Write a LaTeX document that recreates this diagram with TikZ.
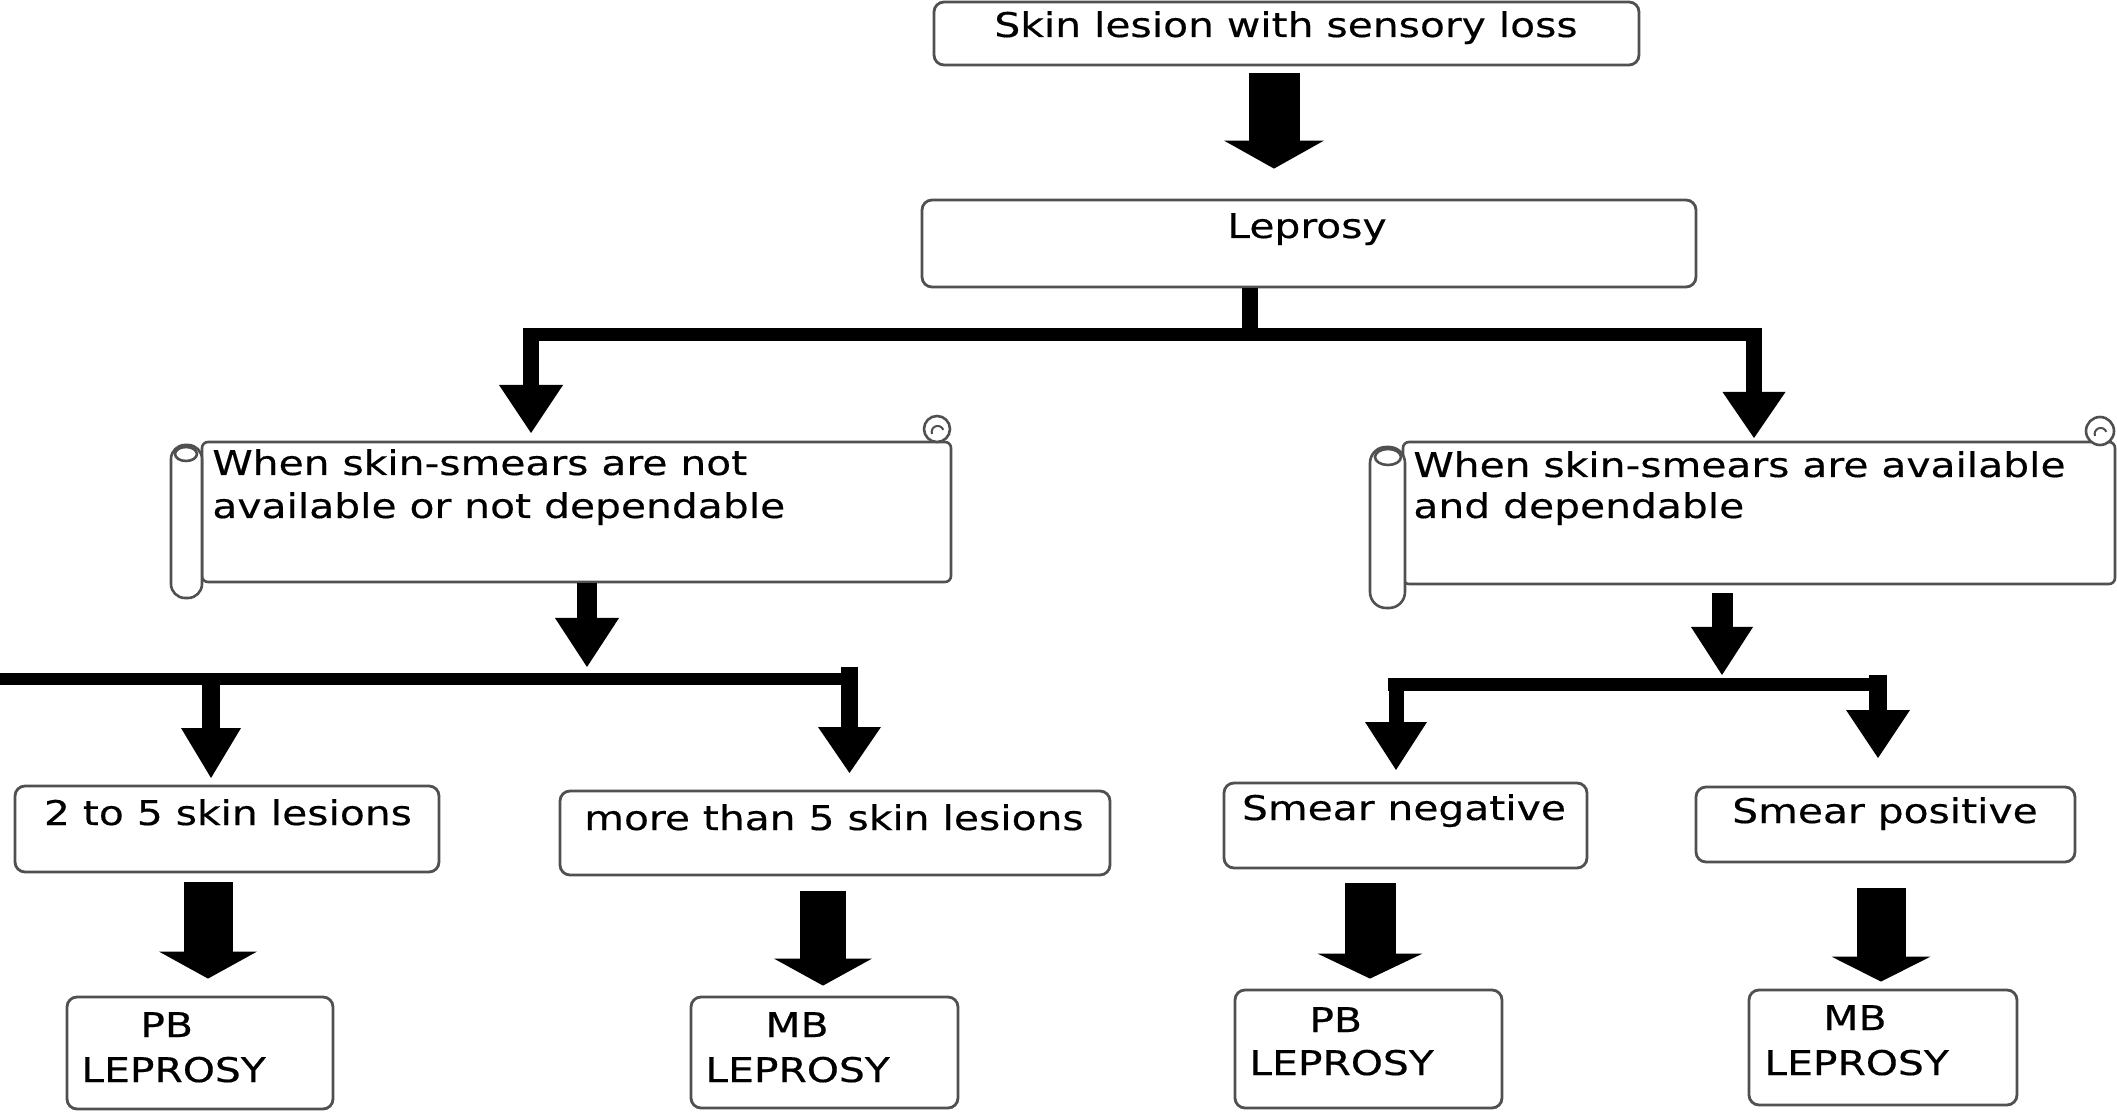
\documentclass[tikz,border=0pt]{standalone}
\usepackage{fontspec}
\setmainfont[FakeStretch=1.2,FakeBold=0.4]{DejaVu Sans}
\usetikzlibrary{arrows.meta,fit}
\definecolor{edge}{HTML}{505050}
\begin{document}
\begin{tikzpicture}[x=0.5pt,y=-0.5pt,
  box/.style={draw=edge, line width=1.4pt, rounded corners=5pt, fill=white, inner sep=0pt},
  scrollbody/.style={draw=edge, line width=1.3pt, rounded corners=3pt, fill=white, inner sep=0pt},
  scrollline/.style={draw=edge, line width=1.3pt},
  txt/.style={inner sep=0pt, font=\fontsize{17pt}{20pt}\selectfont, text=black},
  fatarrow/.style n args={3}{draw=black, line width=#1, -{Triangle[width=#2,length=#3,line width=0pt]}},
  hbar/.style={draw=black, line width=#1},
]
\fill[white] (0,0) rectangle (2117,1112);
\useasboundingbox (0,0) rectangle (2117,1112);

% ---------- boxes ----------
\node[box, fit={(934,2) (1639,65)}] (top) {};
\node[box, fit={(922,200) (1696,287)}] (lep) {};
\node[box, fit={(15,786) (439,872)}] (two) {};
\node[box, fit={(560,791) (1110,875)}] (more) {};
\node[box, fit={(1224,783) (1587,868)}] (neg) {};
\node[box, fit={(1696,787) (2075,862)}] (pos) {};
\node[box, fit={(67,997) (333,1109)}] (pbl) {};
\node[box, fit={(691,997) (958,1108)}] (mbl) {};
\node[box, fit={(1235,990) (1502,1108)}] (pbr) {};
\node[box, fit={(1749,990) (2017,1105)}] (mbr) {};

% ---------- scrolls ----------
\node[scrollbody, fit={(202,442) (951,582)}] (ls) {};
\draw[scrollline, fill=white, rounded corners=7pt] (171,445) rectangle (202,598);
\draw[scrollline, fill=white] (186,454) ellipse [x radius=5.5pt, y radius=3.5pt];
\draw[scrollline, fill=white] (937,429) circle [radius=6.5pt];
\draw[scrollline, line width=1pt] (932,434) arc [start angle=200, end angle=20, radius=3pt];

\node[scrollbody, fit={(1403,442) (2115,584)}] (rs) {};
\draw[scrollline, fill=white, rounded corners=8pt] (1370,447) rectangle (1405,608);
\draw[scrollline, fill=white] (1388,457) ellipse [x radius=6.5pt, y radius=4pt];
\draw[scrollline, fill=white] (2100,431) circle [radius=7pt];
\draw[scrollline, line width=1pt] (2095,436) arc [start angle=200, end angle=20, radius=3pt];

% ---------- texts ----------
\node[txt, anchor=base] (ttop) at (1286,37) {Skin lesion with sensory loss};
\node[txt, anchor=base] (tlep) at (1307,238) {Leprosy};
\node[txt, anchor=base west] (tls1) at (212,475) {When skin-smears are not};
\node[txt, anchor=base west] (tls2) at (212,518) {available or not dependable};
\node[txt, anchor=base west] (trs1) at (1413,477) {When skin-smears are available};
\node[txt, anchor=base west] (trs2) at (1413,518) {and dependable};
\node[txt, anchor=base] (ttwo) at (228,825) {2 to 5 skin lesions};
\node[txt, anchor=base] (tmore) at (834,830) {more than 5 skin lesions};
\node[txt, anchor=base] (tneg) at (1404,820) {Smear negative};
\node[txt, anchor=base] (tpos) at (1885,823) {Smear positive};
\node[txt, anchor=base west] (tpbl1) at (140,1037) {PB};
\node[txt, anchor=base west] (tpbl2) at (81,1082) {LEPROSY};
\node[txt, anchor=base west] (tmbl1) at (765,1037) {MB};
\node[txt, anchor=base west] (tmbl2) at (705,1082) {LEPROSY};
\node[txt, anchor=base west] (tpbr1) at (1309,1032) {PB};
\node[txt, anchor=base west] (tpbr2) at (1249,1075) {LEPROSY};
\node[txt, anchor=base west] (tmbr1) at (1823,1030) {MB};
\node[txt, anchor=base west] (tmbr2) at (1764,1075) {LEPROSY};

% ---------- block arrows ----------
\coordinate (a1) at (1274,0);
\draw[fatarrow={25.5pt}{50pt}{14pt}, shorten <=3.5pt, shorten >=15pt] (top.south -| a1) -- (lep.north -| a1);
\coordinate (b1) at (208,0);
\draw[fatarrow={24.5pt}{49pt}{13.5pt}, shorten <=4.5pt, shorten >=8.5pt] (two.south -| b1) -- (pbl.north -| b1);
\coordinate (b2) at (823,0);
\draw[fatarrow={23pt}{49pt}{13.5pt}, shorten <=7.5pt, shorten >=5pt] (more.south -| b2) -- (mbl.north -| b2);
\coordinate (b3) at (1370,0);
\draw[fatarrow={25.5pt}{52.5pt}{12.5pt}, shorten <=7pt, shorten >=5pt] (neg.south -| b3) -- (pbr.north -| b3);
\coordinate (b4) at (1881,0);
\draw[fatarrow={24.5pt}{49.5pt}{12.5pt}, shorten <=12.5pt, shorten >=3.5pt] (pos.south -| b4) -- (mbr.north -| b4);

% ---------- upper tree ----------
\coordinate (j1) at (1250,335);
\coordinate (h1l) at (523,335);
\coordinate (h1r) at (1762,335);
\coordinate (tl) at (531,433);
\coordinate (tr) at (1754,438);
\draw[hbar=8pt] (lep.south -| j1) -- (j1);
\draw[hbar=6.5pt] (h1l) -- (h1r);
\draw[fatarrow={8pt}{32pt}{24pt}] (531,328.5) -- (tl);
\draw[fatarrow={8pt}{31.5pt}{23pt}] (1754,328.5) -- (tr);

% ---------- lower left tree ----------
\coordinate (t2) at (587,667);
\draw[fatarrow={10pt}{32pt}{24.5pt}] (ls.south -| t2) -- (t2);
\coordinate (h2l) at (-4,679);
\coordinate (h2r) at (858,679);
\draw[hbar=6pt] (h2l) -- (h2r);
\coordinate (t2a) at (211,778);
\coordinate (t2b) at (849.5,773);
\draw[fatarrow={9pt}{30pt}{25pt}] (211,673) -- (t2a);
\draw[fatarrow={8.5pt}{31.5pt}{23pt}] (849.5,667) -- (t2b);

% ---------- lower right tree ----------
\coordinate (t3) at (1722,675);
\draw[fatarrow={10.5pt}{31pt}{24pt}, shorten <=4pt] (rs.south -| t3) -- (t3);
\coordinate (h3l) at (1388,685);
\coordinate (h3r) at (1887,685);
\draw[hbar=6.5pt] (h3l) -- (h3r);
\coordinate (t3a) at (1396,770);
\coordinate (t3b) at (1878,758);
\draw[fatarrow={7.5pt}{31pt}{24pt}] (1396,678.5) -- (t3a);
\draw[fatarrow={9pt}{32pt}{24pt}] (1878,675) -- (t3b);
\end{tikzpicture}
\end{document}
